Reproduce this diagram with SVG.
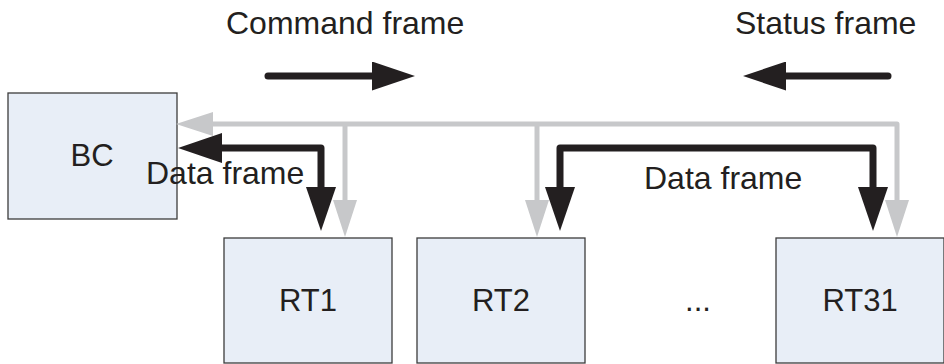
<svg xmlns="http://www.w3.org/2000/svg" width="944" height="364" viewBox="0 0 944 364">
<style>
.box{fill:#e8eef7;stroke:#3c3c3c;stroke-width:1.3}
.lbl{font-family:"Liberation Sans",Arial,sans-serif;font-size:31px;fill:#231f20}
.frm{font-family:"Liberation Sans",Arial,sans-serif;font-size:32px;fill:#231f20}
.blk{fill:none;stroke:#231f20;stroke-width:7;stroke-linejoin:round;stroke-linecap:butt}
.gry{fill:none;stroke:#c7c8ca;stroke-width:5;stroke-linejoin:round}
.big{fill:none;stroke:#231f20;stroke-width:7;stroke-linecap:round}
</style>
<defs>
<marker id="hb" markerUnits="userSpaceOnUse" markerWidth="44" markerHeight="30" refX="0" refY="15" orient="auto-start-reverse"><path d="M0,0 L44,15 L0,30 z" fill="#231f20"/></marker>
<marker id="hg" markerUnits="userSpaceOnUse" markerWidth="37" markerHeight="24" refX="0" refY="12" orient="auto-start-reverse"><path d="M0,0 L37,12 L0,24 z" fill="#c7c8ca"/></marker>
<marker id="ht" markerUnits="userSpaceOnUse" markerWidth="43" markerHeight="29" refX="0" refY="14.5" orient="auto"><path d="M0,0 L43,14.5 L0,29 z" fill="#231f20"/></marker>
</defs>
<g id="bc"><rect class="box" x="8" y="93" width="169" height="126"/><text class="lbl" x="92" y="166" text-anchor="middle">BC</text></g>
<g id="rt1"><rect class="box" x="224" y="238" width="168" height="125"/><text class="lbl" x="308" y="311" text-anchor="middle">RT1</text></g>
<g id="rt2"><rect class="box" x="417" y="238" width="168" height="125"/><text class="lbl" x="501" y="311" text-anchor="middle">RT2</text></g>
<g id="dots"><text class="lbl" x="698" y="311" text-anchor="middle">...</text></g>
<g id="rt31"><rect class="box" x="776" y="238" width="168" height="125"/><text class="lbl" x="860" y="311" text-anchor="middle">RT31</text></g>
<g id="connectors">
<path class="gry" d="M213,124 H897 V200" marker-start="url(#hg)" marker-end="url(#hg)"/>
<path class="gry" d="M345,124 V200" marker-end="url(#hg)"/>
<path class="gry" d="M537,124 V200" marker-end="url(#hg)"/>
<path class="blk" d="M321,187 V148 H222" marker-start="url(#hb)" marker-end="url(#hb)"/>
<path class="blk" d="M560,187 V148 H873 V187" marker-start="url(#hb)" marker-end="url(#hb)"/>
<path class="big" d="M268,76 H372" marker-end="url(#ht)"/>
<path class="big" d="M888,76 H786" marker-end="url(#ht)"/>
</g>
<g id="labels">
<text class="frm" x="226" y="34">Command frame</text>
<text class="frm" x="735" y="34">Status frame</text>
<text class="frm" x="146" y="184">Data frame</text>
<text class="frm" x="644" y="189">Data frame</text>
</g>
</svg>
